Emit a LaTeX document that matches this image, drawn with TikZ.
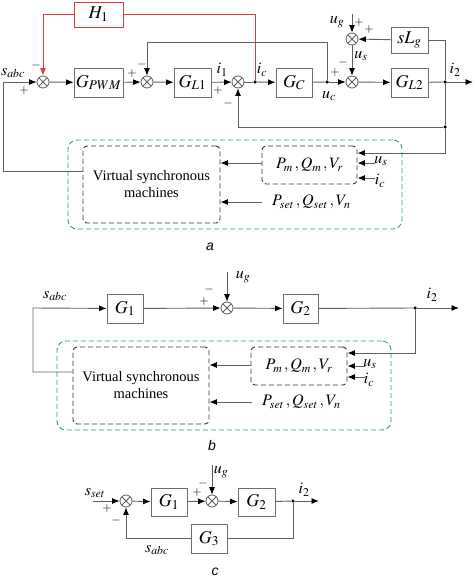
\documentclass[tikz,border=0pt]{standalone}
\usepackage{mathptmx}
\usepackage{fontspec}
\setmainfont{Liberation Serif}
\newfontfamily\capfont{Liberation Sans}
\usetikzlibrary{arrows.meta}

\definecolor{linegray}{RGB}{95,95,95}
\definecolor{boxgray}{RGB}{110,110,110}
\definecolor{vsmgreen}{RGB}{40,165,100}
\definecolor{hred}{RGB}{225,60,60}

\tikzset{
  blk/.style={draw=boxgray, line width=0.9pt, inner sep=0pt, font=\fontsize{18}{20}\selectfont},
  sumnode/.style={circle, draw=linegray, line width=0.8pt, minimum size=12pt, inner sep=0pt,
    path picture={\draw[linegray, line width=0.8pt]
      (path picture bounding box.north west) -- (path picture bounding box.south east)
      (path picture bounding box.south west) -- (path picture bounding box.north east);}},
  jdot/.style={circle, fill=black, minimum size=3.5pt, inner sep=0pt},
  sig/.style={draw=linegray, line width=0.9pt},
  arr/.style={sig, -{Latex[length=7.5pt,width=6pt,black]}},
  hsig/.style={draw=hred, line width=0.9pt},
  harr/.style={hsig, -{Latex[length=7.5pt,width=6pt,hred]}},
  lbl/.style={inner sep=0pt, font=\fontsize{16}{18}\selectfont},
  sgn/.style={inner sep=0pt, font=\fontsize{12}{12}\selectfont},
  dashbox/.style={draw=black!80, dash pattern=on 5pt off 3pt, line width=0.9pt, rounded corners=4pt, inner sep=0pt},
  grnbox/.style={draw=vsmgreen, dash pattern=on 5pt off 3pt, line width=0.9pt, rounded corners=9pt, inner sep=0pt},
  vsmtext/.style={align=center, font=\fontsize{14.5}{17}\selectfont},
  caplbl/.style={inner sep=0pt, font=\capfont\itshape\fontsize{14}{14}\selectfont}
}

\begin{document}
\begin{tikzpicture}[x=1pt,y=-1pt]
  \useasboundingbox (0,0) rectangle (474,578);

  % ---- a ----
  \node[blk, draw=hred, minimum width=49pt, minimum height=25pt] (HA) at (98.5,14.5) {$H_1$};
  \node[sumnode] (SumA1) at (43,82) {};
  \node[blk, minimum width=49pt, minimum height=29pt] (GpwmA) at (98.5,82.5) {$G_{PWM}$};
  \node[sumnode] (SumA2) at (147,82) {};
  \node[blk, minimum width=37pt, minimum height=29pt] (GlA) at (192.5,82.5) {$G_{L1}$};
  \node[sumnode] (SumA3) at (238,82) {};
  \node[jdot] (IcDotA) at (255,82) {};
  \node[blk, minimum width=36pt, minimum height=29pt] (GcA) at (294,82.5) {$G_C$};
  \node[jdot] (UcDotA) at (327,82) {};
  \node[sumnode] (SumA4) at (352,82) {};
  \node[sumnode] (SumA5) at (352,39) {};
  \node[blk, minimum width=37pt, minimum height=26pt] (SlgA) at (409.5,40) {$sL_g$};
  \node[blk, minimum width=37pt, minimum height=29pt] (Gl2A) at (409.5,82.5) {$G_{L2}$};
  \node[jdot] (I2DotA) at (445,82) {};
  \node[jdot] (FbDotA) at (445,127) {};
  \coordinate (OutA) at (473,82);
  \coordinate (UgTopA) at (352,14);
  \coordinate (LeftA) at (3,82);
  \coordinate (TopFbA) at (147,42);

  \node[grnbox, minimum width=334pt, minimum height=89pt] (GrnA) at (235,184.5) {};
  \node[dashbox, vsmtext, minimum width=137pt, minimum height=77pt] (VsmA) at (151.5,184.5) {Virtual synchronous\\machines};
  \node[dashbox, lbl, minimum width=95pt, minimum height=38pt] (PmA) at (309.5,165) {$P_m\,,Q_m\,,V_r$};
  \node[lbl, anchor=west] (PsetA) at (272,202) {$P_{set}\,,Q_{set}\,,V_n$};

  \node[lbl] (SabcA) at (13,73) {$s_{abc}$};
  \node[lbl] (I1A) at (222,70) {$i_1$};
  \node[lbl] (IcA) at (262,70) {$i_c$};
  \node[lbl] (UcA) at (329,96) {$u_c$};
  \node[lbl] (UsA) at (361,56) {$u_s$};
  \node[lbl] (UgA) at (337,22) {$u_g$};
  \node[lbl] (I2A) at (455,70) {$i_2$};
  \node[lbl] (UsInA) at (381,161) {$u_s$};
  \node[lbl] (IcInA) at (380,181) {$i_c$};

  \node[sgn] at (36,65) {$-$};
  \node[sgn] at (24,91) {$+$};
  \node[sgn] at (132,74) {$+$};
  \node[sgn] at (142,64) {$-$};
  \node[sgn] at (218,91) {$+$};
  \node[sgn] at (228,103) {$-$};
  \node[sgn] at (335,73) {$+$};
  \node[sgn] at (343,63) {$-$};
  \node[sgn] at (359,23) {$+$};
  \node[sgn] at (369,30) {$+$};

  \draw[harr] (HA.west) -| (SumA1);
  \draw[hsig] (HA.east) -| (IcDotA);
  \draw[arr] ([yshift=13.5pt]VsmA.west) -| (LeftA) -- (SumA1);
  \draw[arr] (SumA1) -- (GpwmA);
  \draw[arr] (GpwmA) -- (SumA2);
  \draw[arr] (SumA2) -- (GlA);
  \draw[arr] (GlA) -- (SumA3);
  \draw[sig] (SumA3) -- (IcDotA);
  \draw[arr] (IcDotA) -- (GcA);
  \draw[sig] (GcA) -- (UcDotA);
  \draw[arr] (UcDotA) -- (SumA4);
  \draw[arr] (UcDotA) |- (TopFbA) -- (SumA2);
  \draw[arr] (SumA4) -- (Gl2A);
  \draw[sig] (Gl2A) -- (I2DotA);
  \draw[arr] (I2DotA) -- (OutA);
  \draw[arr] (UgTopA) -- (SumA5);
  \draw[arr] (SumA5) -- (SumA4);
  \draw[arr] (SlgA) -- (SumA5);
  \draw[sig] (SlgA.east) -| (I2DotA);
  \draw[sig] (I2DotA) -- (FbDotA);
  \draw[arr] (FbDotA) -| (SumA3);
  \draw[arr] (FbDotA) |- ([yshift=12pt]PmA.east);
  \draw[arr] ([xshift=18pt,yshift=2pt]PmA.east) -- ([yshift=2pt]PmA.east);
  \draw[arr] ([xshift=18pt,yshift=-13pt]PmA.east) -- ([yshift=-13pt]PmA.east);
  \draw[arr] ([yshift=2pt]PmA.west) -- ([yshift=2pt]PmA.west -| VsmA.east);
  \draw[arr] ([xshift=-10pt]PsetA.west) -- (PsetA.west -| VsmA.east);

  \node[caplbl] (CapA) at (210,247) {a};

  % ---- b ----
  \node[blk, minimum width=36pt, minimum height=29pt] (G1B) at (125,308.5) {$G_1$};
  \node[sumnode] (SumB) at (227,308) {};
  \node[blk, minimum width=35pt, minimum height=29pt] (G2B) at (300.5,308.5) {$G_2$};
  \node[jdot] (I2DotB) at (415,308) {};
  \coordinate (OutB) at (459,308);
  \coordinate (UgTopB) at (227,272);
  \coordinate (LeftB) at (33,308);

  \node[grnbox, minimum width=334pt, minimum height=89pt] (GrnB) at (224,385.5) {};
  \node[dashbox, vsmtext, minimum width=136pt, minimum height=77pt] (VsmB) at (141,385.5) {Virtual synchronous\\machines};
  \node[dashbox, lbl, minimum width=96pt, minimum height=38pt] (PmB) at (299,366) {$P_m\,,Q_m\,,V_r$};
  \node[lbl, anchor=west] (PsetB) at (262,402) {$P_{set}\,,Q_{set}\,,V_n$};

  \node[lbl] (SabcB) at (55,296) {$s_{abc}$};
  \node[lbl] (UgB) at (243,277) {$u_g$};
  \node[lbl] (I2B) at (432,295) {$i_2$};
  \node[lbl] (UsInB) at (370,364) {$u_s$};
  \node[lbl] (IcInB) at (369,380) {$i_c$};
  \node[sgn] at (204,302) {$+$};
  \node[sgn] at (209,289) {$-$};

  \draw[arr] ([yshift=13.5pt]VsmB.west) -| (LeftB) -- (G1B);
  \draw[arr] (G1B) -- (SumB);
  \draw[arr] (UgTopB) -- (SumB);
  \draw[arr] (SumB) -- (G2B);
  \draw[sig] (G2B) -- (I2DotB);
  \draw[arr] (I2DotB) -- (OutB);
  \draw[arr] (I2DotB) |- ([yshift=13pt]PmB.east);
  \draw[arr] ([xshift=18pt,yshift=0pt]PmB.east) -- ([yshift=0pt]PmB.east);
  \draw[arr] ([xshift=18pt,yshift=-11pt]PmB.east) -- ([yshift=-11pt]PmB.east);
  \draw[arr] ([yshift=1pt]PmB.west) -- ([yshift=1pt]PmB.west -| VsmB.east);
  \draw[arr] ([xshift=-10pt]PsetB.west) -- (PsetB.west -| VsmB.east);

  \node[caplbl] (CapB) at (212,445) {b};

  % ---- c ----
  \node[sumnode] (SumC1) at (126,501) {};
  \node[blk, minimum width=36pt, minimum height=28pt] (G1C) at (169,502) {$G_1$};
  \node[sumnode] (SumC2) at (212,501) {};
  \node[blk, minimum width=37pt, minimum height=28pt] (G2C) at (256.5,502) {$G_2$};
  \node[jdot] (I2DotC) at (293,501) {};
  \node[blk, minimum width=36pt, minimum height=29pt] (G3C) at (209,538.5) {$G_3$};
  \coordinate (InC) at (93,501);
  \coordinate (OutC) at (319,501);
  \coordinate (UgTopC) at (212,465);

  \node[lbl] (SsetC) at (95,493) {$s_{set}$};
  \node[lbl] (UgC) at (221,472) {$u_g$};
  \node[lbl] (I2C) at (304,490) {$i_2$};
  \node[lbl] (SabcC) at (157,550) {$s_{abc}$};
  \node[sgn] at (107,508) {$+$};
  \node[sgn] at (116,520) {$-$};
  \node[sgn] at (197,492) {$+$};
  \node[sgn] at (203,483) {$-$};

  \draw[arr] (InC) -- (SumC1);
  \draw[arr] (SumC1) -- (G1C);
  \draw[arr] (G1C) -- (SumC2);
  \draw[arr] (UgTopC) -- (SumC2);
  \draw[arr] (SumC2) -- (G2C);
  \draw[sig] (G2C) -- (I2DotC);
  \draw[arr] (I2DotC) -- (OutC);
  \draw[sig] (I2DotC) |- (G3C);
  \draw[arr] (G3C) -| (SumC1);

  \node[caplbl] (CapC) at (215,572) {c};
\end{tikzpicture}
\end{document}
